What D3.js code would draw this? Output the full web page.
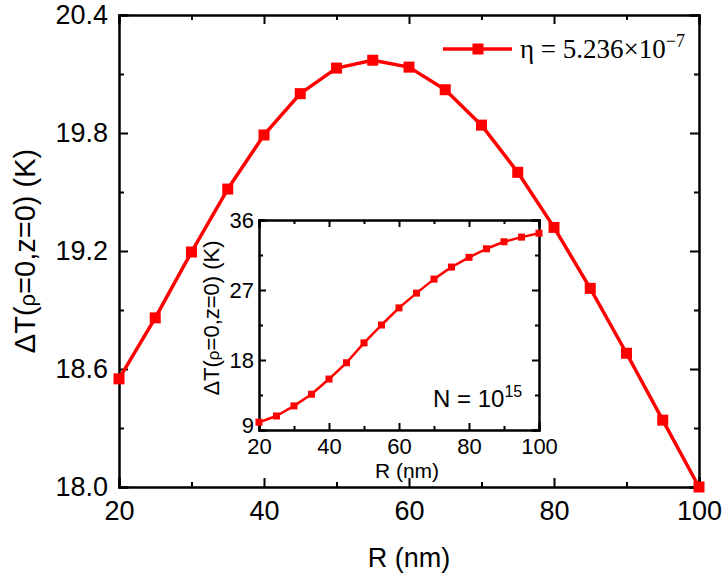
<!DOCTYPE html>
<html>
<head>
<meta charset="utf-8">
<script src="https://cdn.jsdelivr.net/npm/d3@7"></script>
<style>
  body { margin: 0; background: #fff; }
  svg { display: block; }
  .ax path, .ax line { stroke: #000; stroke-width: 2; }
  .ax text { font-family: "Liberation Sans", Arial, sans-serif; fill: #000; }
</style>
</head>
<body>
<svg id="chart"></svg>
<script>
// data
var radius = [20, 25, 30, 35, 40, 45, 50, 55, 60, 65, 70, 75, 80, 85, 90, 95, 100];
var dTmain = [18.55, 18.86, 19.195, 19.515, 19.79, 20.0, 20.13, 20.17, 20.135, 20.02, 19.84, 19.60, 19.32, 19.01, 18.68, 18.34, 18.0];
var dTinset = [10.0, 10.8, 12.1, 13.6, 15.55, 17.65, 20.2, 22.5, 24.7, 26.6, 28.4, 29.95, 31.2, 32.3, 33.2, 33.8, 34.3];
var xTicks = [20, 40, 60, 80, 100];
var xMinor = [30, 50, 70, 90];
var yTicksMain = [18.0, 18.6, 19.2, 19.8, 20.4];
var yMinorMain = [18.3, 18.9, 19.5, 20.1];
var yTicksInset = [9, 18, 27, 36];
var yMinorInset = [13.5, 22.5, 31.5];

var width = 727, height = 577;
var red = "#ff0000";

var svg = d3.select("#chart").attr("width", width).attr("height", height);

function panel(box, yDom, yMaj, yMin, yFmt, fs, tMaj, tMin, xPad, yPad) {
  var x = d3.scaleLinear().domain([20, 100]).range([box.l, box.r]);
  var y = d3.scaleLinear().domain(yDom).range([box.b, box.t]);
  var g = svg.append("g");
  g.append("rect").attr("x", box.l).attr("y", box.t)
    .attr("width", box.r - box.l).attr("height", box.b - box.t).attr("fill", "#fff");

  // major + minor ticks on all four sides, pointing in
  function add(axisFn, scale, vals, size, fmt, tr, pad) {
    var a = axisFn(scale).tickValues(vals).tickSize(-size).tickPadding(pad).tickFormat(fmt);
    var s = g.append("g").attr("class", "ax").attr("transform", tr).call(a);
    s.selectAll("text").style("font-size", fs + "px");
    return s;
  }
  var none = function() { return ""; };
  add(d3.axisBottom, x, xTicks, tMaj, d3.format("d"), "translate(0," + box.b + ")", xPad);
  add(d3.axisBottom, x, xMinor, tMin, none, "translate(0," + box.b + ")", xPad);
  add(d3.axisTop, x, xTicks, tMaj, none, "translate(0," + box.t + ")", xPad);
  add(d3.axisTop, x, xMinor, tMin, none, "translate(0," + box.t + ")", xPad);
  var yl = add(d3.axisLeft, y, yMaj, tMaj, yFmt, "translate(" + box.l + ",0)", yPad);
  add(d3.axisLeft, y, yMin, tMin, none, "translate(" + box.l + ",0)", yPad);
  add(d3.axisRight, y, yMaj, tMaj, none, "translate(" + box.r + ",0)", yPad);
  add(d3.axisRight, y, yMin, tMin, none, "translate(" + box.r + ",0)", yPad);
  g.selectAll(".ax path").attr("stroke-linecap", "square");
  return { x: x, y: y, g: g, yAxis: yl };
}

function series(p, vals, lw, ms) {
  var line = d3.line().x(function(d, i) { return p.x(radius[i]); }).y(function(d) { return p.y(d); });
  p.g.append("path").datum(vals).attr("d", line)
    .attr("fill", "none").attr("stroke", red).attr("stroke-width", lw).attr("stroke-linejoin", "round");
  p.g.selectAll("rect.m").data(vals).enter().append("rect").attr("class", "m")
    .attr("x", function(d, i) { return p.x(radius[i]) - ms / 2; })
    .attr("y", function(d) { return p.y(d) - ms / 2; })
    .attr("width", ms).attr("height", ms).attr("fill", red);
}

// main plot
var main = panel({ l: 119, r: 699, t: 15, b: 487 }, [18.0, 20.4], yTicksMain, yMinorMain,
  d3.format(".1f"), 27, 9, 5, 14, 11);
series(main, dTmain, 3.5, 11);

svg.append("text").attr("x", 409).attr("y", 567).attr("text-anchor", "middle")
  .style("font-family", "Liberation Sans, Arial, sans-serif").style("font-size", "27px")
  .text("R (nm)");

var yl = svg.append("text").attr("transform", "translate(35,251) rotate(-90)").attr("text-anchor", "middle")
  .style("font-family", "Liberation Sans, Arial, sans-serif").style("font-size", "29px");
yl.append("tspan").text("\u0394T(");
yl.append("tspan").style("font-size", "22px").text("\u03c1");
yl.append("tspan").text("=0,z=0) (K)");

// legend
var lg = svg.append("g");
lg.append("line").attr("x1", 443).attr("x2", 512).attr("y1", 49).attr("y2", 49)
  .attr("stroke", red).attr("stroke-width", 3.5);
lg.append("rect").attr("x", 478 - 5.5).attr("y", 49 - 5.5).attr("width", 11).attr("height", 11).attr("fill", red);
var lt = lg.append("text").attr("x", 520).attr("y", 58)
  .style("font-family", "Liberation Serif, Times New Roman, serif").style("font-size", "27px");
lt.append("tspan").text("\u03b7 = 5.236\u00d710");
lt.append("tspan").attr("dy", -11).style("font-size", "18px").text("\u22127");

// inset
var inset = panel({ l: 259, r: 539, t: 220, b: 430 }, [9, 36], yTicksInset, yMinorInset,
  d3.format("d"), 22, 7, 4, 8, 5);
series(inset, dTinset, 2.5, 7);
// lift the lowest inset label a little so it clears the "20" below it
inset.yAxis.selectAll("text").filter(function(d) { return d === 9; }).attr("dy", "0.1em");

svg.append("text").attr("x", 407).attr("y", 478).attr("text-anchor", "middle")
  .style("font-family", "Liberation Sans, Arial, sans-serif").style("font-size", "21px")
  .text("R (nm)");

var il = svg.append("text").attr("transform", "translate(219,318) rotate(-90)").attr("text-anchor", "middle")
  .style("font-family", "Liberation Sans, Arial, sans-serif").style("font-size", "22px");
il.append("tspan").text("\u0394T(");
il.append("tspan").style("font-size", "17px").text("\u03c1");
il.append("tspan").text("=0,z=0) (K)");

var nt = svg.append("text").attr("x", 433).attr("y", 407)
  .style("font-family", "Liberation Sans, Arial, sans-serif").style("font-size", "24px");
nt.append("tspan").text("N = 10");
nt.append("tspan").attr("dy", -10).style("font-size", "16px").text("15");
</script>
</body>
</html>
